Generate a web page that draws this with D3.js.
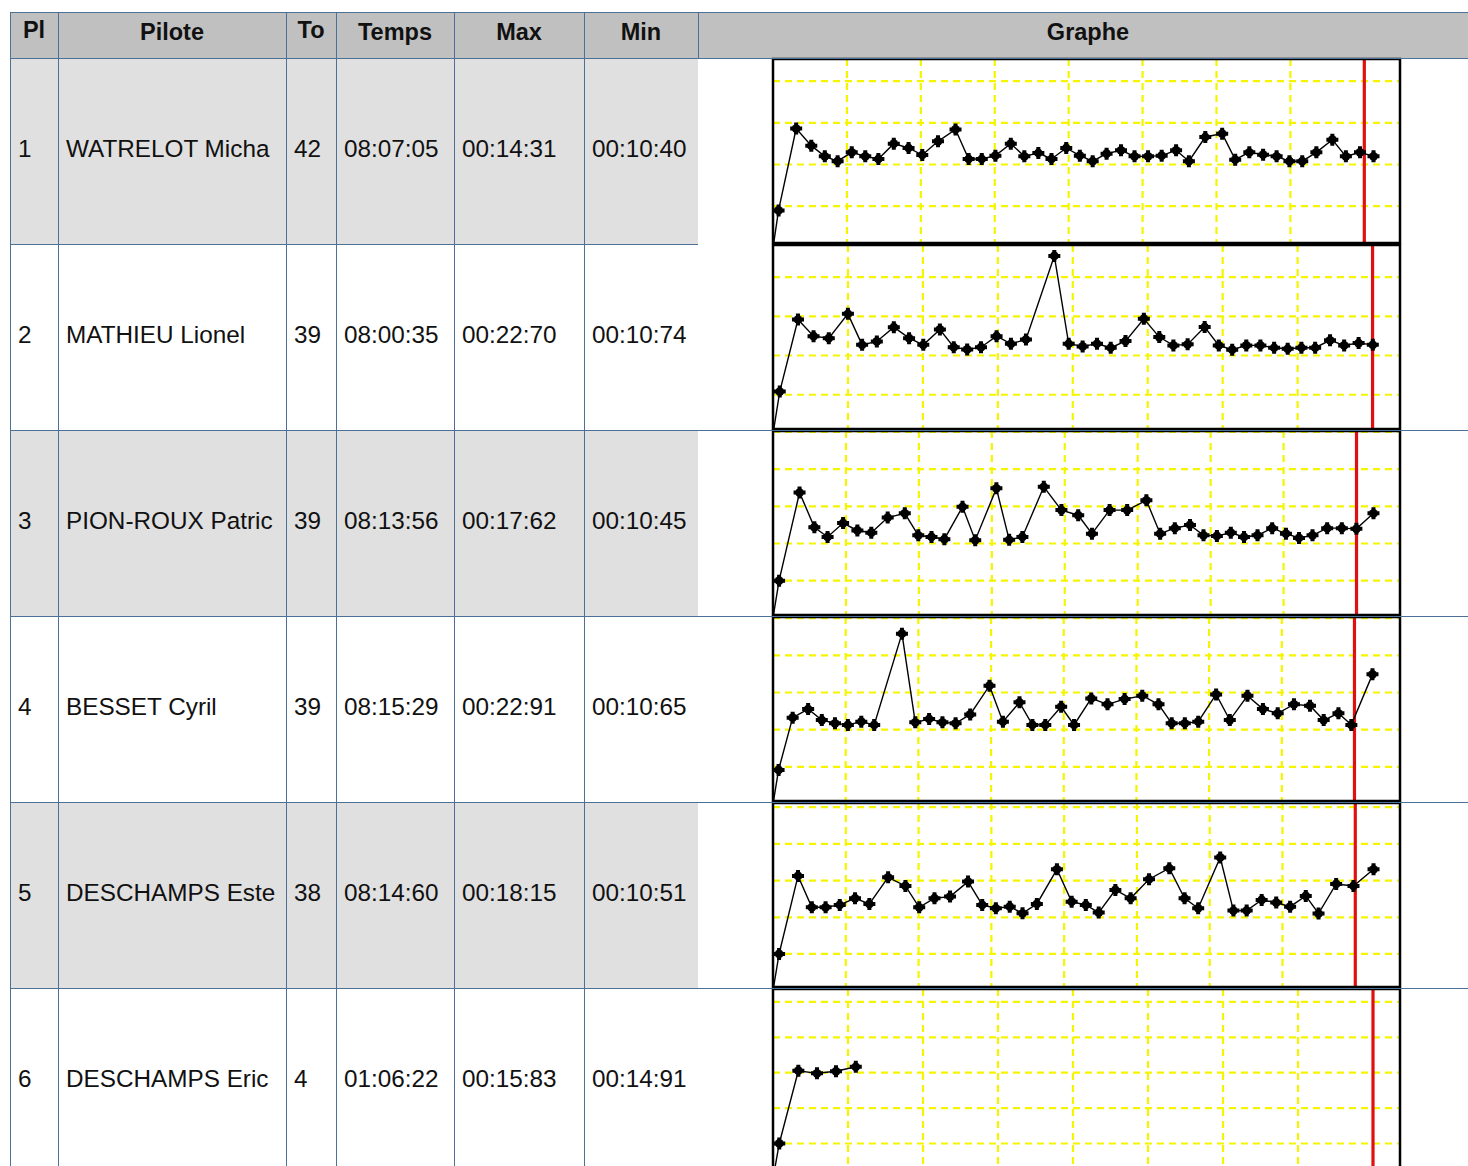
<!DOCTYPE html>
<html><head><meta charset="utf-8">
<script src="https://cdn.jsdelivr.net/npm/d3@7"></script>
<style>html,body{margin:0;padding:0;background:#fff;overflow:hidden}</style>
</head><body>
<svg id="chart" width="1468" height="1166"></svg>
<script>
// ---------- data ----------
const columns = ["Pl", "Pilote", "To", "Temps", "Max", "Min", "Graphe"];
const places = ["1", "2", "3", "4", "5", "6"];
const pilots = ["WATRELOT Micha", "MATHIEU Lionel", "PION-ROUX Patric", "BESSET Cyril", "DESCHAMPS Este", "DESCHAMPS Eric"];
const lapCounts = ["42", "39", "39", "39", "38", "4"];
const totalTimes = ["08:07:05", "08:00:35", "08:13:56", "08:15:29", "08:14:60", "01:06:22"];
const maxTimes = ["00:14:31", "00:22:70", "00:17:62", "00:22:91", "00:18:15", "00:15:83"];
const minTimes = ["00:10:40", "00:10:74", "00:10:45", "00:10:65", "00:10:51", "00:14:91"];
const raceDuration = 480;          // seconds, red marker
const startSegments = [4.5, 5.4, 5.0, 4.6, 5.0, 5.0]; // first partial passage (s)
const laps1 = [14.31, 12.26, 10.98, 10.40, 11.46, 10.98, 10.66, 12.50, 11.98, 11.14, 12.78, 14.20, 10.66, 10.66, 11.06, 12.50, 10.98, 11.38, 10.66, 11.98, 11.06, 10.40, 11.30, 11.70, 10.98, 10.98, 11.06, 11.70, 10.40, 13.30, 13.70, 10.58, 11.46, 11.18, 10.98, 10.40, 10.40, 11.46, 12.98, 10.98, 11.46, 10.98];
const laps2 = [14.59, 12.47, 12.21, 15.31, 11.36, 11.79, 13.61, 12.21, 11.36, 13.32, 11.06, 10.77, 11.06, 12.47, 11.49, 12.04, 22.70, 11.50, 11.16, 11.50, 10.99, 11.84, 14.69, 12.35, 11.29, 11.42, 13.63, 11.29, 10.74, 11.29, 11.29, 10.99, 10.86, 10.99, 10.99, 11.93, 11.29, 11.59, 11.36];
const laps3 = [16.84, 12.19, 10.88, 12.75, 11.75, 11.45, 13.49, 14.06, 11.10, 10.88, 10.58, 14.93, 10.45, 17.41, 10.50, 10.88, 17.62, 14.49, 13.80, 11.32, 14.49, 14.49, 15.80, 11.32, 12.06, 12.49, 11.10, 11.02, 11.45, 10.88, 11.10, 12.06, 11.32, 10.75, 11.10, 12.06, 12.06, 11.97, 14.06];
const laps4 = [11.62, 12.78, 11.30, 10.86, 10.65, 11.08, 10.65, 22.91, 10.99, 11.44, 10.99, 10.86, 12.06, 15.92, 11.08, 13.68, 10.65, 10.65, 13.09, 10.65, 14.21, 13.41, 14.12, 14.57, 13.41, 10.86, 10.86, 11.08, 14.75, 11.30, 14.57, 12.78, 12.20, 13.41, 13.23, 11.30, 12.20, 10.65, 17.44];
const laps5 = [15.63, 11.36, 11.36, 11.68, 12.59, 11.82, 15.45, 14.27, 11.36, 12.59, 12.82, 14.86, 11.68, 11.23, 11.45, 10.54, 11.82, 16.54, 12.13, 11.68, 10.64, 13.72, 12.59, 15.18, 16.68, 12.59, 11.23, 18.15, 10.91, 10.91, 12.36, 12.00, 11.45, 12.91, 10.51, 14.54, 14.27, 16.54];
const laps6 = [15.28, 14.91, 15.20, 15.83];
const lapSeries = [laps1, laps2, laps3, laps4, laps5, laps6];
const yDomains = [[0.59, 22.65], [0.63, 24.09], [0.39, 25.12], [0.42, 25.15], [0.50, 25.57], [0.83, 26.82]];
const yGridValues = [5, 10, 15, 20, 25];
const xGridStep = 60;

// ---------- layout ----------
const W = 1468, H = 1166;
const colX = [10, 58, 286, 336, 454, 584, 698, 1476];
const headTop = 12, headBottom = 58, rowH = 186;
const boxL = 773, boxR = 1400, plotR = 1373;
const borderColor = "#4d7096";
const font = "'Liberation Sans', Arial, Helvetica, sans-serif";

const svg = d3.select("#chart");
const parseTime = s => { const p = s.split(":").map(Number); return p[0] * 60 + p[1] + p[2] / 100; };

// header background
svg.append("rect").attr("x", colX[0]).attr("y", headTop).attr("width", W - colX[0]).attr("height", headBottom - headTop).attr("fill", "#c0c0c0");

// row backgrounds
places.forEach((p, i) => {
  if (i % 2 === 0) {
    svg.append("rect").attr("x", colX[0]).attr("y", headBottom + i * rowH)
      .attr("width", colX[6] - colX[0]).attr("height", rowH).attr("fill", "#e0e0e0");
  }
});

// header text
columns.forEach((c, j) => {
  const cx = j < 6 ? (colX[j] + colX[j + 1]) / 2 : (colX[6] + colX[7]) / 2 + 1;
  svg.append("text").attr("x", cx).attr("y", (c === "Pl" || c === "To") ? 38 : 40)
    .attr("text-anchor", "middle").attr("font-family", font).attr("font-weight", "bold")
    .attr("font-size", "23.5px").attr("fill", "#111").text(c);
});

// row texts
const cellValues = [places, pilots, lapCounts, totalTimes, maxTimes, minTimes];
places.forEach((p, i) => {
  const top = headBottom + i * rowH;
  cellValues.forEach((arr, j) => {
    svg.append("text").attr("x", colX[j] + 8).attr("y", top + rowH / 2 + 6)
      .attr("font-family", font).attr("font-size", "24.3px").attr("fill", "#111").text(arr[i]);
  });
});

// graphs
lapSeries.forEach((laps, i) => {
  const top = headBottom + i * rowH;
  const bTop = top + 1, bBot = top + rowH - 1;
  const total = parseTime(totalTimes[i]);
  const x = d3.scaleLinear().domain([0, Math.max(total, raceDuration)]).range([boxL, plotR]);
  const y = d3.scaleLinear().domain(yDomains[i]).range([bBot, bTop]);

  let t = startSegments[i];
  const pts = [{ t: t, v: startSegments[i] }];
  laps.forEach(v => { t += v; pts.push({ t: t, v: v }); });

  const g = svg.append("g");
  const clipId = "clip" + i;
  g.append("clipPath").attr("id", clipId).append("rect")
    .attr("x", boxL).attr("y", bTop).attr("width", boxR - boxL).attr("height", bBot - bTop);
  g.append("rect").attr("x", boxL).attr("y", bTop).attr("width", boxR - boxL).attr("height", bBot - bTop).attr("fill", "#fff");
  const inner = g.append("g").attr("clip-path", `url(#${clipId})`);

  const xTicks = d3.range(xGridStep, x.invert(boxR), xGridStep);
  inner.selectAll("line.vg").data(xTicks).join("line")
    .attr("x1", d => x(d)).attr("x2", d => x(d)).attr("y1", bTop).attr("y2", bBot)
    .attr("stroke", "#f5f500").attr("stroke-width", 2.2).attr("stroke-dasharray", "7,5");
  inner.selectAll("line.hg").data(yGridValues.filter(v => v > yDomains[i][0] && v < yDomains[i][1])).join("line")
    .attr("x1", boxL).attr("x2", boxR).attr("y1", d => y(d)).attr("y2", d => y(d))
    .attr("stroke", "#f5f500").attr("stroke-width", 2.2).attr("stroke-dasharray", "7,5");

  inner.append("line").attr("x1", x(raceDuration)).attr("x2", x(raceDuration))
    .attr("y1", bTop).attr("y2", bBot).attr("stroke", "#e01010").attr("stroke-width", 3.2);

  const line = d3.line().x(d => x(d.t)).y(d => y(d.v));
  inner.append("path").datum([{ t: 0, v: 0 }].concat(pts)).attr("d", line)
    .attr("fill", "none").attr("stroke", "#000").attr("stroke-width", 1.4);

  const cross = d3.symbol().type(d3.symbolCross).size(80);
  const mk = inner.selectAll("g.mk").data(pts).join("g")
    .attr("transform", d => `translate(${x(d.t)},${y(d.v)})`);
  mk.append("path").attr("d", cross).attr("fill", "#000");
  mk.append("circle").attr("r", 4.4).attr("fill", "#000");

  g.append("rect").attr("x", boxL).attr("y", bTop).attr("width", boxR - boxL).attr("height", bBot - bTop)
    .attr("fill", "none").attr("stroke", "#000").attr("stroke-width", 2.5);
});

// borders
const bl = (x1, y1, x2, y2) => svg.append("line").attr("x1", x1).attr("y1", y1).attr("x2", x2).attr("y2", y2)
  .attr("stroke", borderColor).attr("stroke-width", 1);
bl(colX[0], headTop + 0.5, W, headTop + 0.5);
bl(colX[0], headBottom + 0.5, W, headBottom + 0.5);
places.forEach((p, i) => {
  const yb = headBottom + (i + 1) * rowH + 0.5;
  if (i === 0) bl(colX[0], yb, colX[6], yb);
  else bl(colX[0], yb, W, yb);
});
colX.slice(0, 6).forEach(cx => bl(cx + 0.5, headTop, cx + 0.5, H));
bl(colX[6] + 0.5, headTop, colX[6] + 0.5, headBottom);
</script>
</body></html>
